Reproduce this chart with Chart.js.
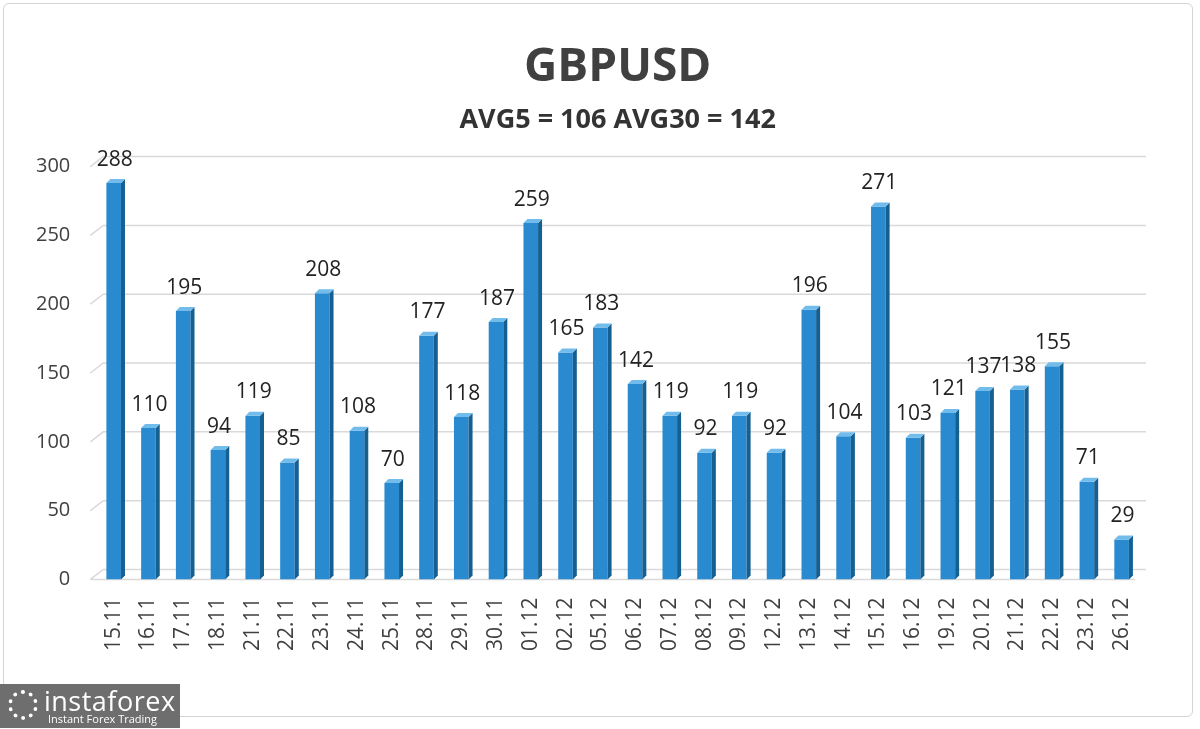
<!DOCTYPE html>
<html>
<head>
<meta charset="utf-8">
<script src="https://cdn.jsdelivr.net/npm/chart.js@4.4.0/dist/chart.umd.min.js"></script>
<style>
  html, body { margin: 0; padding: 0; background: #fff; }
  #wrap { position: relative; width: 1200px; height: 729px; overflow: hidden; }
  #frame { position: absolute; left: 3px; top: 3px; width: 1190px; height: 714px; border: 1px solid #d4d4d4; border-radius: 6px; box-sizing: border-box; }
  #chart { position: absolute; left: 0; top: 0; }
  #logo { position: absolute; left: 0; top: 684px; width: 180px; height: 44px; background: #6e6e6e; color: #fff; font-family: 'Open Sans', sans-serif; }
  #logo .big { position: absolute; left: 44px; top: 0px; font-size: 27px; line-height: 34px; letter-spacing: 0.5px; }
  #logo .small { position: absolute; left: 48px; top: 28px; font-size: 11px; line-height: 14px; }
  #logo .gear { position: absolute; left: 8px; top: 6px; width: 30px; height: 30px; border: 4px dotted #fff; border-radius: 50%; box-sizing: border-box; }
</style>
</head>
<body>
<div id="wrap">
  <div id="frame"></div>
  <canvas id="chart" width="1200" height="729"></canvas>
  <div id="logo"><div class="gear"></div><div class="big">instaforex</div><div class="small">Instant Forex Trading</div></div>
</div>
<script>
// Kategorien & Werte (Tagesrange in Pips)
const DATES = ['15.11','16.11','17.11','18.11','21.11','22.11','23.11','24.11','25.11','28.11',
  '29.11','30.11','01.12','02.12','05.12','06.12','07.12','08.12','09.12','12.12',
  '13.12','14.12','15.12','16.12','19.12','20.12','21.12','22.12','23.12','26.12'];
const VALUES = [288,110,195,94,119,85,208,108,70,177,
  118,187,259,165,183,142,119,92,119,92,
  196,104,271,103,121,137,138,155,71,29];
const Y_TICKS = [0,50,100,150,200,250,300];
const TITLE = 'GBPUSD';
const SUBTITLE = 'AVG5 = 106 AVG30 = 142';

const FONT = "'Open Sans', 'DejaVu Sans', sans-serif";
const TEXT = '#404040';
const GRID = '#d9d9d9';

// 3D-Optik: rechte Seitenfläche + Deckel je Balken, plus Werte darüber
const bar3d = {
  id: 'bar3d',
  afterDatasetsDraw(chart) {
    const c = chart.ctx;
    const meta = chart.getDatasetMeta(0);
    const d = 4;
    meta.data.forEach((el, i) => {
      const left = el.x - el.width / 2, right = el.x + el.width / 2;
      const top = el.y, base = el.base;
      c.save();
      c.fillStyle = '#155f91';
      c.beginPath();
      c.moveTo(right, top); c.lineTo(right + d, top - d);
      c.lineTo(right + d, base - d); c.lineTo(right, base);
      c.closePath(); c.fill();
      c.fillStyle = '#72bcec';
      c.beginPath();
      c.moveTo(left, top); c.lineTo(left + d, top - d);
      c.lineTo(right + d, top - d); c.lineTo(right, top);
      c.closePath(); c.fill();
      c.fillStyle = '#222';
      c.font = `21px ${FONT}`;
      c.textAlign = 'center';
      c.textBaseline = 'bottom';
      c.fillText(String(VALUES[i]), el.x + 1, top - 13);
      c.restore();
    });
  }
};

// Gitter auf der Rückwand + Schräglinien links (Perspektive)
const grid3d = {
  id: 'grid3d',
  beforeDatasetsDraw(chart) {
    const c = chart.ctx, y = chart.scales.y, a = chart.chartArea;
    const dx = 13, dy = 10;
    c.save();
    c.strokeStyle = GRID;
    c.lineWidth = 1.5;
    Y_TICKS.forEach(t => {
      const py = y.getPixelForValue(t);
      c.beginPath();
      c.moveTo(a.left - 6, py);
      c.lineTo(a.left - 6 + dx, py - dy);
      c.lineTo(a.right + 7, py - dy);
      c.stroke();
    });
    const p0 = y.getPixelForValue(0);
    c.beginPath();
    c.moveTo(a.left - 6, p0);
    c.lineTo(a.right - 4, p0);
    c.stroke();
    c.restore();
  }
};

const grad = (ctx) => {
  const el = ctx.element;
  const chart = ctx.chart;
  if (!el || !chart.chartArea || !Number.isFinite(el.x)) return '#2a8ad0';
  const w = 14;
  const g = chart.ctx.createLinearGradient(el.x - w / 2, 0, el.x + w / 2, 0);
  g.addColorStop(0, '#52aeea');
  g.addColorStop(0.6, '#2d93da');
  g.addColorStop(1, '#2082c8');
  return g;
};

new Chart(document.getElementById('chart'), {
  type: 'bar',
  data: {
    labels: DATES,
    datasets: [{
      data: VALUES,
      backgroundColor: grad,
      borderWidth: 0,
      barPercentage: 0.42,
      categoryPercentage: 1,
    }]
  },
  options: {
    responsive: false,
    animation: false,
    devicePixelRatio: 1,
    layout: { padding: { left: 18, right: 61, top: 10, bottom: 68 } },
    plugins: {
      legend: { display: false },
      tooltip: { enabled: false },
      title: {
        display: true, text: TITLE, color: TEXT, fullSize: false,
        font: { family: FONT, size: 46, weight: 'bold' },
        padding: { top: 30, bottom: 9 }
      },
      subtitle: {
        display: true, text: SUBTITLE, color: '#333', fullSize: false,
        font: { family: FONT, size: 27, weight: 'bold' },
        padding: { bottom: 30 }
      }
    },
    scales: {
      x: {
        grid: { display: false },
        border: { display: false },
        ticks: { color: TEXT, font: { family: FONT, size: 21 }, minRotation: 90, maxRotation: 90, padding: 10 }
      },
      y: {
        min: 0, max: 300,
        afterBuildTicks: s => { s.ticks = Y_TICKS.map(v => ({ value: v })); },
        grid: { display: false },
        border: { display: false },
        ticks: { color: TEXT, font: { family: FONT, size: 20 }, padding: 18 }
      }
    }
  },
  plugins: [grid3d, bar3d]
});
</script>
</body>
</html>
